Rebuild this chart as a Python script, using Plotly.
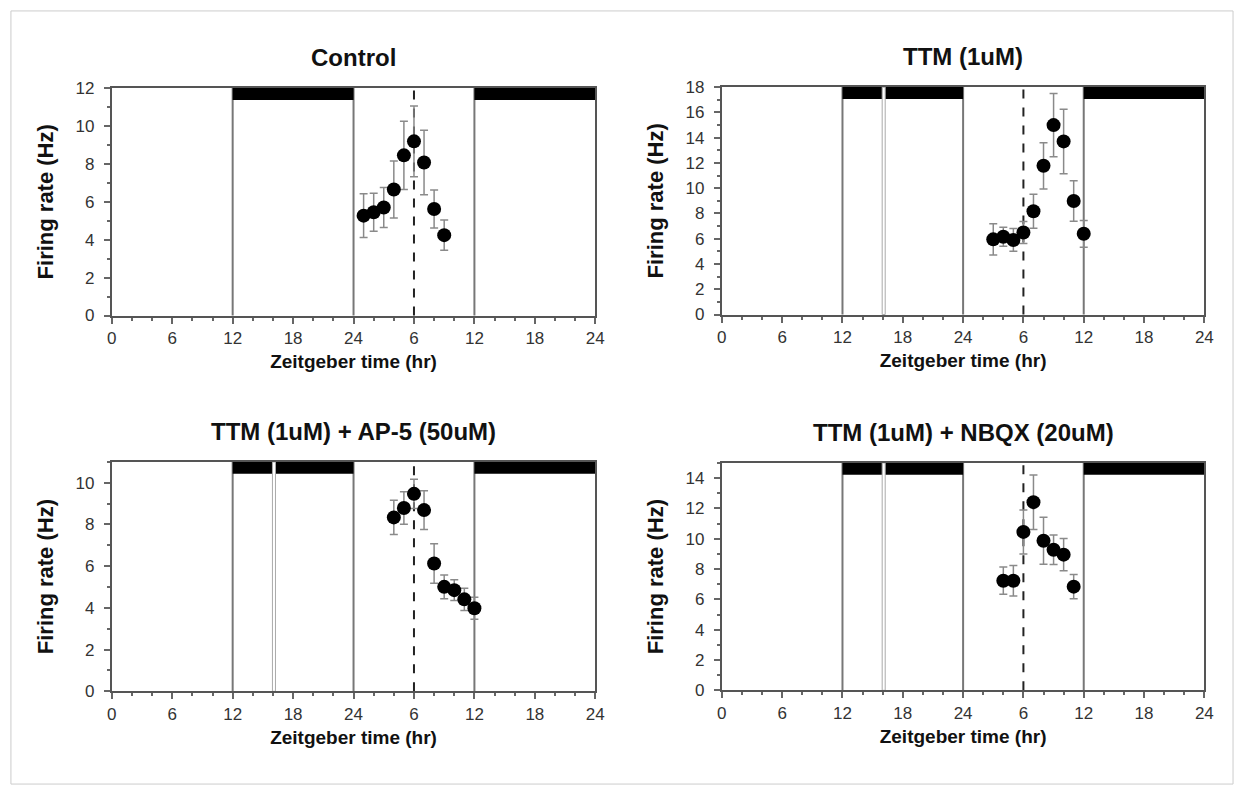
import plotly.graph_objects as go

# Recording times (ZT of the second day) and mean firing rates ± SEM
ctrl_zt = [1, 2, 3, 4, 5, 6, 7, 8, 9]
ctrl_rate = [5.27, 5.45, 5.7, 6.65, 8.45, 9.19, 8.07, 5.62, 4.24]
ctrl_sem = [1.15, 1.0, 1.05, 1.5, 1.8, 1.87, 1.7, 1.0, 0.8]

ttm_zt = [3, 4, 5, 6, 7, 8, 9, 10, 11, 12]
ttm_rate = [5.95, 6.16, 5.9, 6.49, 8.17, 11.77, 14.99, 13.7, 8.99, 6.39]
ttm_sem = [1.24, 0.75, 0.9, 0.87, 1.35, 1.83, 2.5, 2.55, 1.6, 1.06]

ap5_zt = [4, 5, 6, 7, 8, 9, 10, 11, 12]
ap5_rate = [8.34, 8.79, 9.47, 8.69, 6.13, 5.01, 4.85, 4.41, 3.98]
ap5_sem = [0.82, 0.78, 0.7, 0.93, 0.95, 0.57, 0.5, 0.53, 0.53]

nbqx_zt = [4, 5, 6, 7, 8, 9, 10, 11]
nbqx_rate = [7.23, 7.23, 10.45, 12.41, 9.87, 9.27, 8.95, 6.84]
nbqx_sem = [0.9, 1.0, 1.45, 1.8, 1.55, 0.97, 1.07, 0.8]

titles = ["Control", "TTM (1uM)", "TTM (1uM) + AP-5 (50uM)", "TTM (1uM) + NBQX (20uM)"]
y_max = [12, 18, 11, 15]
x_tick_vals = [0, 6, 12, 18, 24, 30, 36, 42, 48]
x_tick_text = ["0", "6", "12", "18", "24", "6", "12", "18", "24"]
dark_phases = [(12, 24), (36, 48)]
boundaries = [12, 24, 36]
drug_time = 16.1      # drug application marker (treated slices only)
dashed_time = 30      # ZT6 of day two
DAY = 24

W, H = 1245, 796
FONT = "Arial, Liberation Sans, sans-serif"

series = [
    (ctrl_zt, ctrl_rate, ctrl_sem),
    (ttm_zt, ttm_rate, ttm_sem),
    (ap5_zt, ap5_rate, ap5_sem),
    (nbqx_zt, nbqx_rate, nbqx_sem),
]

# panel boxes in pixels: (left, right, top, bottom)
boxes = [
    (108, 597, 81, 314),
    (725, 1213, 80, 313),
    (108, 597, 464, 699),
    (725, 1213, 465, 698),
]

fig = go.Figure()
annotations = []
shapes = []

for i, ((zt, rate, sem), box) in enumerate(zip(series, boxes)):
    n = i + 1
    sfx = "" if n == 1 else str(n)
    xa, ya = "x" + sfx, "y" + sfx
    l, r, t, b = box
    xdom = [l / W, r / W]
    ydom = [1 - b / H, 1 - t / H]

    fig.add_trace(go.Scatter(
        x=[DAY + z for z in zt], y=rate, mode="markers",
        xaxis=xa, yaxis=ya, showlegend=False,
        marker=dict(color="black", size=14),
        error_y=dict(type="data", array=sem, visible=True,
                     color="#8a8a8a", thickness=1.5, width=4),
    ))

    common_axis = dict(showgrid=False, zeroline=False, showline=True,
                       linecolor="#555", linewidth=2, mirror=True,
                       ticks="outside", tickcolor="#666", tickwidth=1.5,
                       ticklen=6,
                       tickfont=dict(family=FONT, size=17, color="#333"))
    fig.update_layout(**{
        "xaxis" + sfx: dict(common_axis, domain=xdom, anchor=ya, range=[0, 48],
                            tickmode="array", tickvals=x_tick_vals, ticktext=x_tick_text,
                            ticklabelstandoff=0,
                            minor=dict(tickmode="linear", tick0=0, dtick=2, ticks="outside",
                                       ticklen=3, tickcolor="#666", tickwidth=1.5),
                            title=dict(text="<b>Zeitgeber time (hr)</b>", standoff=8,
                                       font=dict(family=FONT, size=19, color="#111"))),
        "yaxis" + sfx: dict(common_axis, domain=ydom, anchor=xa, range=[0, y_max[i]],
                            tickmode="linear", tick0=0, dtick=2, ticklabelstandoff=6,
                            minor=dict(tickmode="linear", tick0=0, dtick=1, ticks="outside",
                                       ticklen=3, tickcolor="#666", tickwidth=1.5),
                            title=dict(text="<b>Firing rate (Hz)</b>", standoff=16,
                                       font=dict(family=FONT, size=22, color="#111"))),
    })

    xref = xa
    ydref = ya + " domain"

    # light/dark boundaries
    for bx in boundaries:
        shapes.append(dict(type="line", xref=xref, yref=ydref, x0=bx, x1=bx, y0=0, y1=1,
                           line=dict(color="#777", width=2), layer="below"))
    # dark phase bars along the top
    for d0, d1 in dark_phases:
        shapes.append(dict(type="rect", xref=xref, yref=ydref, x0=d0, x1=d1, y0=0.948, y1=1,
                           fillcolor="black", line=dict(width=0), layer="below"))
    # drug application marker
    if i > 0:
        shapes.append(dict(type="rect", xref=xref, yref=ydref, x0=drug_time - 0.15,
                           x1=drug_time + 0.15, y0=0, y1=1, fillcolor="white",
                           line=dict(color="#aaa", width=1), layer="below"))
    # ZT6 reference
    shapes.append(dict(type="line", xref=xref, yref=ydref, x0=dashed_time, x1=dashed_time,
                       y0=0, y1=1, line=dict(color="#222", width=2, dash="dash"),
                       layer="below"))

    annotations.append(dict(text="<b>" + titles[i] + "</b>", xref="paper", yref="paper",
                            x=(l + r) / 2 / W, y=1 - (t - 15) / H, xanchor="center",
                            yanchor="bottom", showarrow=False,
                            font=dict(family=FONT, size=24, color="#111")))

# outer frame
shapes.append(dict(type="rect", xref="paper", yref="paper", x0=6 / W, x1=1242 / W,
                   y0=1 - 794 / H, y1=1 - 2 / H, line=dict(color="#ccc", width=1)))

fig.update_layout(
    width=W, height=H, margin=dict(l=0, r=0, t=0, b=0),
    paper_bgcolor="white", plot_bgcolor="white",
    shapes=shapes, annotations=annotations,
    font=dict(family=FONT),
)

fig.write_html("out.html")
